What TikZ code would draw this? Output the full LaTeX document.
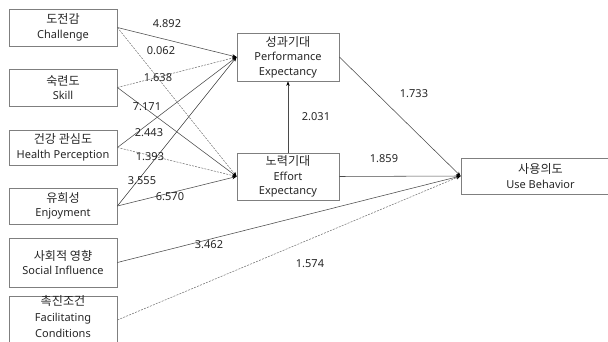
\documentclass[tikz,border=0pt]{standalone}
\usepackage{fontspec}
\setmainfont{Noto Sans}
\newfontfamily\kr[Scale=1.1]{Noto Sans CJK KR}
\usetikzlibrary{arrows.meta}
\definecolor{boxgray}{HTML}{7F7F7F}
\definecolor{linegray}{HTML}{4A4A4A}
\definecolor{dashgray}{HTML}{767676}
\begin{document}
\begin{tikzpicture}[x=1pt,y=-1pt,
  box/.style={draw=boxgray,line width=0.8pt,align=center,inner sep=0pt,
    font=\fontsize{11}{14.5}\selectfont,text=black!85},
  lbl/.style={font=\fontsize{11}{13}\selectfont,text=black!85,inner sep=0pt},
  sol/.style={draw=linegray,line width=0.55pt},
  dsh/.style={draw=dashgray,line width=0.55pt,dash pattern=on 2pt off 1.2pt},
  tip/.style={-{Stealth[length=4.5pt,width=3.5pt,color=black]}}]
\useasboundingbox (0,0) rectangle (608,342);
\begin{scope}
\clip (0,0) rectangle (608,342);
% left boxes
\node[box,minimum width=108pt,minimum height=37pt] (ch) at (63,27.5) {{\kr 도전감}\\Challenge};
\node[box,minimum width=108pt,minimum height=37pt] (sk) at (63,87.5) {{\kr 숙련도}\\Skill};
\node[box,minimum width=108pt,minimum height=35pt] (hp) at (63,147.5) {{\kr 건강 관심도}\\Health Perception};
\node[box,minimum width=108pt,minimum height=36pt] (en) at (63,206) {{\kr 유희성}\\Enjoyment};
\node[box,minimum width=108pt,minimum height=49pt] (si) at (63,262.5) {{\kr 사회적 영향}\\Social Influence};
\node[box,minimum width=108pt,minimum height=48pt] (fc) at (63,320) {};
\node[align=center,inner sep=0pt,font=\fontsize{11}{16}\selectfont,text=black!85] (fct) at (63,317) {{\kr 촉진조건}\\Facilitating\\Conditions};
% middle boxes
\node[box,minimum width=102pt,minimum height=48pt] (pe) at (288,57) {{\kr 성과기대}\\Performance\\Expectancy};
\node[box,minimum width=102pt,minimum height=47pt] (ee) at (288,176.5) {{\kr 노력기대}\\Effort\\Expectancy};
% right box
\node[box,minimum width=159pt,minimum height=36pt] (ub) at (540.5,176) {{\kr 사용의도}\\Use Behavior};
% connectors
\draw[sol,tip] (ch.east) -- (pe.west);
\draw[dsh,tip] (ch.east) -- (ee.west);
\draw[dsh,tip] (sk.east) -- (pe.west);
\draw[sol,tip] (sk.east) -- (ee.west);
\draw[sol,tip] (hp.east) -- (pe.west);
\draw[dsh,tip] (hp.east) -- (ee.west);
\draw[sol,tip] (en.east) -- (pe.west);
\draw[sol,tip] (en.east) -- (ee.west);
\draw[sol,tip] (ee.north) -- (pe.south);
\draw[sol,tip] (pe.east) -- (ub.west);
\draw[sol,tip] (ee.east) -- (ub.west);
\draw[sol,tip] (si.east) -- (ub.west);
\draw[dsh,tip] (fc.east) -- (ub.west);
% labels
\node[lbl] (l1) at (167,24) {4.892};
\node[lbl] (l2) at (161,51) {0.062};
\node[lbl] (l3) at (158,78) {1.638};
\node[lbl] (l4) at (147,107) {7.171};
\node[lbl] (l5) at (149,133) {2.443};
\node[lbl] (l6) at (150,157) {1.393};
\node[lbl] (l7) at (142,181) {3.555};
\node[lbl] (l8) at (170,197) {6.570};
\node[lbl] (l9) at (209,245) {3.462};
\node[lbl] (l10) at (310,264) {1.574};
\node[lbl] (l11) at (316,117) {2.031};
\node[lbl] (l12) at (384,159) {1.859};
\node[lbl] (l13) at (414,94) {1.733};
\end{scope}
\end{tikzpicture}
\end{document}
